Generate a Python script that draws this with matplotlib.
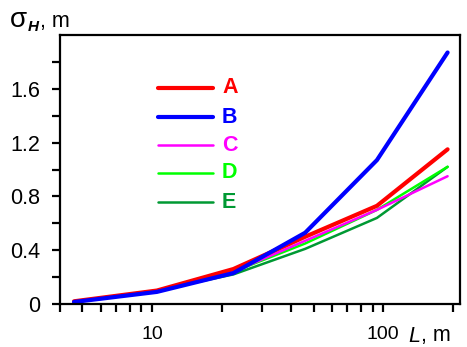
import matplotlib
matplotlib.use("Agg")
import matplotlib.pyplot as plt
from matplotlib.ticker import FixedLocator, NullFormatter, FixedFormatter
import numpy as np

plt.rcParams['font.family'] = ['Liberation Sans', 'DejaVu Sans']

L = [4.6, 10.5, 22.5, 46, 94, 190]
A = [0.02, 0.10, 0.26, 0.50, 0.73, 1.15]
B = [0.015, 0.09, 0.23, 0.53, 1.07, 1.87]
C = [0.02, 0.10, 0.24, 0.47, 0.70, 0.95]
D = [0.02, 0.10, 0.24, 0.45, 0.70, 1.02]
E = [0.02, 0.10, 0.22, 0.41, 0.64, 1.02]
names = ['A', 'B', 'C', 'D', 'E']
series = [A, B, C, D, E]
colors = ['#ff0000', '#0000ff', '#ff00ff', '#00ff00', '#009933']
widths = [3.0, 3.0, 1.8, 1.8, 1.8]

fig = plt.figure(figsize=(4.67, 3.47), dpi=100)
ax = fig.add_axes([60/467, 1-304/347, 400/467, 269/347])

order = [4, 3, 2, 0, 1]
for i in order:
    ax.plot(L, series[i], color=colors[i], lw=widths[i], solid_capstyle='round')

ax.set_xscale('log')
ax.set_xlim(4.0, 215)
ax.set_ylim(0, 2.0)

ax.xaxis.set_major_locator(FixedLocator([10, 100]))
ax.xaxis.set_major_formatter(FixedFormatter(['10', '100']))
ax.xaxis.set_minor_locator(FixedLocator([4, 5, 6, 7, 8, 9, 20, 30, 40, 50, 60, 70, 80, 90, 200]))
ax.xaxis.set_minor_formatter(NullFormatter())
ax.set_yticks([0, 0.4, 0.8, 1.2, 1.6])
ax.set_yticklabels(['0', '0.4', '0.8', '1.2', '1.6'])
ax.yaxis.set_minor_locator(FixedLocator([0.2, 0.6, 1.0, 1.4, 1.8]))

for s in ax.spines.values():
    s.set_linewidth(1.6)
ax.tick_params(which='both', direction='out', length=5.5, width=1.6)
ax.tick_params(axis='x', which='both', pad=10, labelsize=14)
ax.tick_params(axis='y', which='both', pad=9, labelsize=15.5)

# legend
ly = [0.803, 0.695, 0.591, 0.487, 0.379]
for i in range(5):
    ax.plot([0.245, 0.3825], [ly[i], ly[i]], transform=ax.transAxes,
            color=colors[i], lw=widths[i], solid_capstyle='round')
    ax.text(0.405, ly[i], names[i], transform=ax.transAxes, color=colors[i],
            fontsize=15.5, fontweight='bold', va='center', ha='left')

# y label
fig.text(10/467, 1-20/347, 'σ', fontsize=20, va='center', ha='left')
fig.text(28/467, 1-27/347, "H", fontsize=11, fontstyle='italic', fontweight='bold', va='center', ha='left')
fig.text(40/467, 1-22/347, ", m", fontsize=15.5, va='center', ha='left')

# x label
fig.text(408/467, 1-336/347, 'L', fontsize=15.5, fontstyle='italic', va='center', ha='left')
fig.text(421/467, 1-336/347, ', m', fontsize=15.5, va='center', ha='left')

fig.savefig('out.png', dpi=100)
